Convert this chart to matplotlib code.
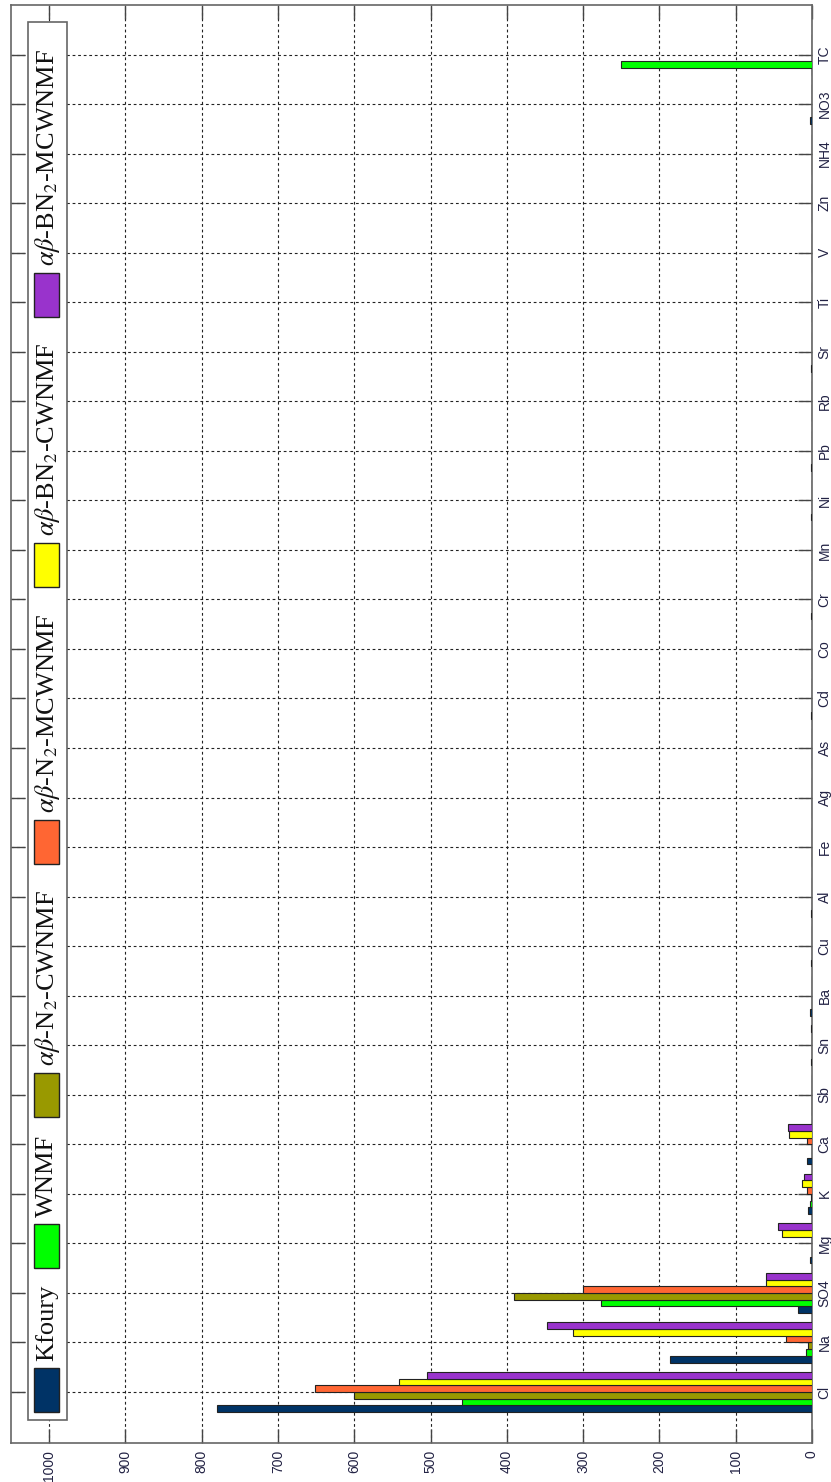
import matplotlib
matplotlib.use('Agg')
import matplotlib.pyplot as plt
from matplotlib.patches import Rectangle
import numpy as np

#categories (bottom to top once rotated)
cats = ['Cl', 'Na', 'SO4', 'Mg', 'K', 'Ca', 'Sb', 'Sn', 'Ba', 'Cu', 'Al', 'Fe', 'Ag', 'As',
        'Cd', 'Co', 'Cr', 'Mn', 'Ni', 'Pb', 'Rb', 'Sr', 'Ti', 'V', 'Zn', 'NH4', 'NO3', 'TC']

#series values
kfoury =    [780, 186, 19, 3, 5, 7, 0, 1.5, 2, 1.5, 1.5, 0, 0, 0, 1.5, 0, 1.5, 0, 1.5, 1.5, 0, 1.5, 0, 0, 0, 0, 2, 0]
wnmf =      [459, 8, 277, 0, 3, 0, 0, 0, 0, 0, 0, 0, 0, 0, 0, 0, 0, 0, 0, 0, 0, 0, 0, 0, 0, 0, 0, 250]
n2_cwnmf =  [601, 5, 391, 0, 1, 0, 0, 0, 0, 0, 0, 0, 0, 0, 0, 0, 0, 0, 0, 0, 0, 0, 0, 0, 0, 0, 0, 0]
n2_mcwnmf = [652, 34, 300, 0, 7, 6, 0, 0, 0, 0, 0, 0, 0, 0, 0, 0, 0, 0, 0, 0, 0, 0, 0, 0, 0, 0, 0, 0]
bn2_cwnmf = [542, 313, 60, 39, 13, 30, 0, 0, 0, 0, 0, 0, 0, 0, 0, 0, 0, 0, 0, 0, 0, 0, 0, 0, 0, 0, 0, 0]
bn2_mcwnmf = [505, 348, 60, 45, 11, 31, 0, 1, 0, 0, 0, 0, 0, 0, 0, 0, 0, 0, 0, 0, 0, 0, 0, 0, 0, 0, 0, 0]

series = [kfoury, wnmf, n2_cwnmf, n2_mcwnmf, bn2_cwnmf, bn2_mcwnmf]
labels = ['Kfoury', 'WNMF', r'$\alpha\beta$-N$_2$-CWNMF', r'$\alpha\beta$-N$_2$-MCWNMF',
          r'$\alpha\beta$-BN$_2$-CWNMF', r'$\alpha\beta$-BN$_2$-MCWNMF']
colors = ['#003366', '#00ff00', '#999900', '#ff6633', '#ffff00', '#9933cc']

value_ticks = list(range(0, 1001, 100))

W, H = 831, 1482
fig = plt.figure(figsize=(W / 100, H / 100), dpi=100)
ax = fig.add_axes([11 / W, 39 / H, (812 - 11) / W, (1443 - 5) / H])

y = np.arange(len(cats))
bh = 0.135
for i, (vals, c) in enumerate(zip(series, colors)):
    ax.barh(y + (i - 2.5) * bh, vals, height=bh, color=c, edgecolor='#222222', linewidth=0.8, zorder=3)

ax.set_xlim(1050, 0)
ax.set_ylim(-1.03, 28.0)
ax.set_xticks(value_ticks)
ax.set_xticklabels([str(v) for v in value_ticks], rotation=90)
ax.set_yticks(y)
ax.set_yticklabels(cats, rotation=90, va='center')
ax.yaxis.set_ticks_position('both')
ax.xaxis.set_ticks_position('both')
ax.yaxis.set_label_position('right')
ax.tick_params(axis='y', which='both', direction='in', length=10, width=1, color='#444444',
               labelleft=False, labelright=True, pad=4, labelsize=10, labelcolor='#222244')
ax.tick_params(axis='x', which='both', direction='in', length=10, width=1, color='#444444',
               labelsize=10, labelcolor='#222244', pad=5)
for lab in ax.get_xticklabels() + ax.get_yticklabels():
    lab.set_fontfamily('Liberation Sans')
ax.grid(True, color='#222222', linestyle=(0, (2.5, 2.5)), linewidth=0.8, zorder=0)
for s in ax.spines.values():
    s.set_color('#666666')
    s.set_linewidth(1.2)

#legend drawn by hand, rotated like the rest of the figure
plt.rcParams['mathtext.fontset'] = 'stix'
legend_box = Rectangle((28 / W, (H - 1420) / H), 39 / W, (1420 - 22) / H, transform=fig.transFigure,
                       facecolor='white', edgecolor='#666666', linewidth=1.2, zorder=5)
fig.patches.append(legend_box)
patch_top = [1412, 1268, 1117, 864, 587, 317]
for lab, c, top in zip(labels, colors, patch_top):
    r = Rectangle((34 / W, (H - top) / H), 25 / W, 44 / H, transform=fig.transFigure,
                  facecolor=c, edgecolor='#222222', linewidth=1, zorder=6)
    fig.patches.append(r)
    fig.text(47 / W, (H - top + 51) / H, lab, rotation=90, rotation_mode='anchor',
             ha='left', va='center', fontsize=19, family='Liberation Serif', color='#111111', zorder=7)

fig.savefig('out.png', dpi=100)
